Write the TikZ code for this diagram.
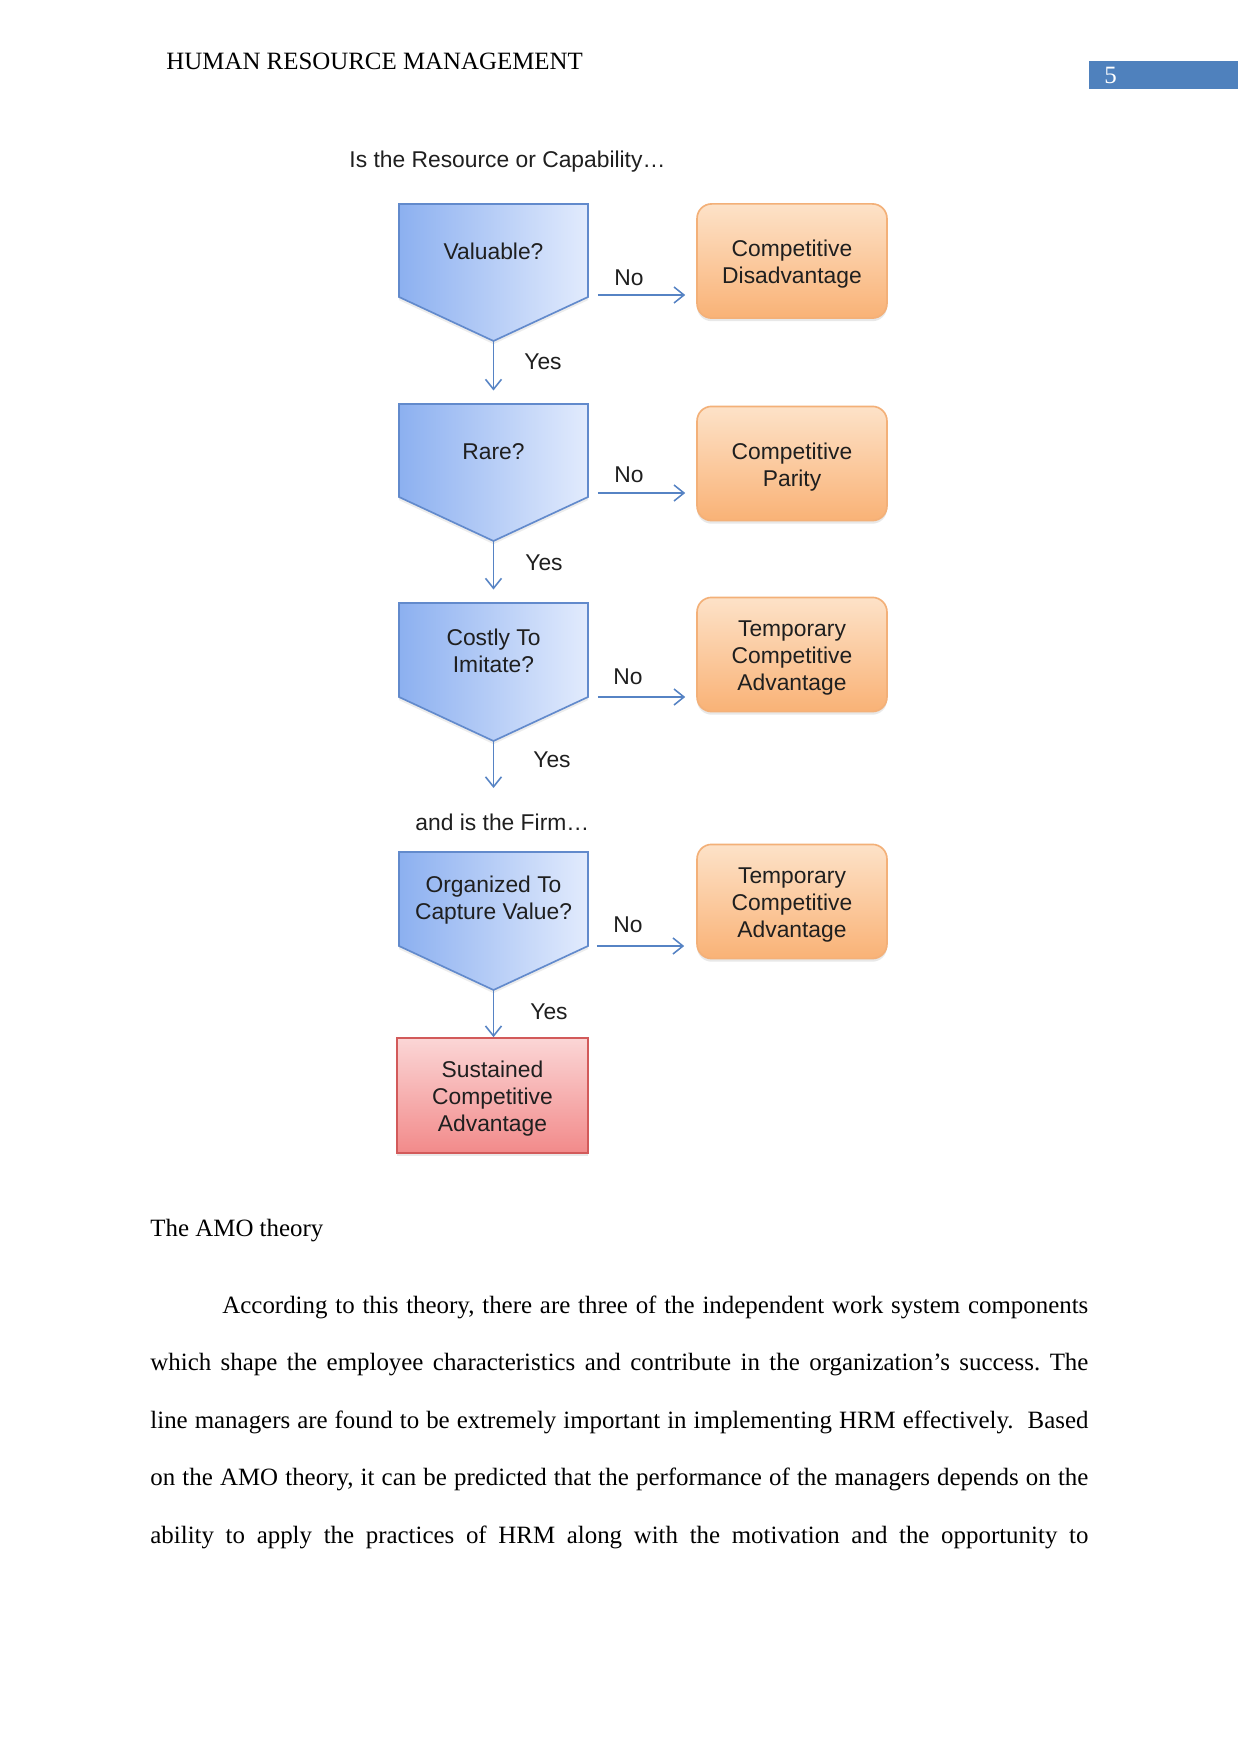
\documentclass[tikz,border=0pt]{standalone}
\usepackage{fontspec}
\setmainfont{Liberation Serif}
\newfontfamily\arialf{Liberation Sans}
\usetikzlibrary{arrows.meta,shadows}
\definecolor{hdrblue}{RGB}{79,129,189}
\definecolor{lineblue}{RGB}{86,131,196}
\definecolor{pentborder}{RGB}{98,138,204}
\definecolor{pentleft}{RGB}{140,176,240}
\definecolor{pentright}{RGB}{226,235,253}
\definecolor{orgtop}{RGB}{253,226,200}
\definecolor{orgbot}{RGB}{249,178,118}
\definecolor{orgborder}{RGB}{243,176,120}
\definecolor{redtop}{RGB}{251,214,214}
\definecolor{redbot}{RGB}{242,138,138}
\definecolor{redborder}{RGB}{210,90,90}
\newcommand\flowfont{\arialf\fontsize{11}{13.1}\selectfont}
\newcommand\pentbox[5]{%
  \path[pent] (399,#2) -- (588,#2) -- (588,#3) -- (493.5,{#3+44}) -- (399,#3) -- cycle;
  \node[penttext] (#1) at (493.5,{(#2+#3)/2+1}) {#5};
  \coordinate (#1-top) at (493.5,#2);
  \coordinate (#1-tip) at (493.5,{#3+44});
  \coordinate (#1-east) at (588,#4);
}
\begin{document}
\begin{tikzpicture}[x=0.4818pt,y=-0.4818pt,
  pent/.style={draw=pentborder,line width=0.8pt,left color=pentleft,right color=pentright,
    drop shadow={opacity=0.15,shadow xshift=0pt,shadow yshift=-1.5pt}},
  penttext/.style={font=\flowfont,align=center,inner sep=0pt,text=black!88},
  obox/.style={draw=orgborder,line width=0.8pt,rounded corners=7pt,top color=orgtop,bottom color=orgbot,
    minimum width=91.5pt,minimum height=55pt,inner sep=0pt,
    drop shadow={opacity=0.18,shadow xshift=0pt,shadow yshift=-1.5pt}},
  rbox/.style={draw=redborder,line width=0.8pt,top color=redtop,bottom color=redbot,
    minimum width=92pt,minimum height=55.4pt,inner sep=0pt,
    drop shadow={opacity=0.18,shadow xshift=0pt,shadow yshift=-1.5pt}},
  boxtext/.style={font=\flowfont,align=center,inner sep=0pt,text=black!88,yshift=-1.6pt},
  lbl/.style={font=\flowfont,inner sep=0pt,text=black!88},
  arr/.style={draw=lineblue,line width=0.75pt,-{Straight Barb[length=4.8pt,width=7.7pt]}},
  body/.style={font=\fontsize{12}{14}\selectfont\frenchspacing,inner sep=0pt,anchor=base west}
]
\useasboundingbox (0,0) rectangle (1241,1754);
\fill[white] (0,0) rectangle (1241,1754);

% header
\node[body] (hdr) at (166,70) {HUMAN RESOURCE MANAGEMENT};
\fill[hdrblue] (1089,61) rectangle (1238,89);
\node[body,text=white] (pg) at (1104,84) {5};

% flowchart
\node[lbl,anchor=base west] (q1) at (349,168) {Is the Resource or Capability…};

\pentbox{val}{204}{297}{295}{Valuable?}
\pentbox{rare}{404}{497}{493}{Rare?}
\pentbox{cost}{603}{697}{697}{Costly To\\Imitate?}
\pentbox{org}{852}{946}{946}{Organized To\\Capture Value?}

\node[obox] (cd) at (792,261) {};
\node[boxtext] (cdt) at (cd.center) {Competitive\\Disadvantage};
\node[obox] (cp) at (792,463.5) {};
\node[boxtext] (cpt) at (cp.center) {Competitive\\Parity};
\node[obox] (tca1) at (792,654.5) {};
\node[boxtext] (tca1t) at (tca1.center) {Temporary\\Competitive\\Advantage};
\node[obox] (tca2) at (792,901.5) {};
\node[boxtext] (tca2t) at (tca2.center) {Temporary\\Competitive\\Advantage};
\node[rbox] (sca) at (492.5,1095.5) {};
\node[boxtext] (scat) at (sca.center) {Sustained\\Competitive\\Advantage};

\draw[arr,shorten <=4.8pt,shorten >=5.3pt] (val-east) -- (cd.west |- val-east);
\draw[arr,shorten <=4.8pt,shorten >=5.3pt] (rare-east) -- (cp.west |- rare-east);
\draw[arr,shorten <=4.8pt,shorten >=5.3pt] (cost-east) -- (tca1.west |- cost-east);
\draw[arr,shorten <=4.3pt,shorten >=5.8pt] (org-east) -- (tca2.west |- org-east);

\draw[arr,shorten >=6.5pt] (val-tip) -- (rare-top);
\draw[arr,shorten >=6.5pt] (rare-tip) -- (cost-top);
\coordinate (firmarrow) at (493.5,788);
\draw[arr] (cost-tip) -- (firmarrow);
\draw[arr] (org-tip) -- (org-tip |- sca.north);

\node[lbl] (no1) at (629,278) {No};
\node[lbl] (no2) at (629,475) {No};
\node[lbl] (no3) at (628,677) {No};
\node[lbl] (no4) at (628,925) {No};
\node[lbl] (yes1) at (543,362) {Yes};
\node[lbl] (yes2) at (544,563) {Yes};
\node[lbl] (yes3) at (552,760) {Yes};
\node[lbl] (yes4) at (549,1012) {Yes};

\node[lbl,anchor=base west] (q2) at (415,830) {and is the Firm…};

% body text
\node[body] (amo) at (150,1236) {The AMO theory};
\node[body] (p1) at (222,1313) {\makebox[417.2pt][s]{According to this theory, there are three of the independent work system components}};
\node[body] (p2) at (150,1370.5) {\makebox[451.9pt][s]{which shape the employee characteristics and contribute in the organization’s success. The}};
\node[body] (p3) at (150,1428) {\makebox[451.9pt][s]{line managers are found to be extremely important in implementing HRM effectively. \ Based}};
\node[body] (p4) at (150,1485.5) {\makebox[451.9pt][s]{on the AMO theory, it can be predicted that the performance of the managers depends on the}};
\node[body] (p5) at (150,1543) {\makebox[451.9pt][s]{ability to apply the practices of HRM along with the motivation and the opportunity to}};
\end{tikzpicture}
\end{document}
